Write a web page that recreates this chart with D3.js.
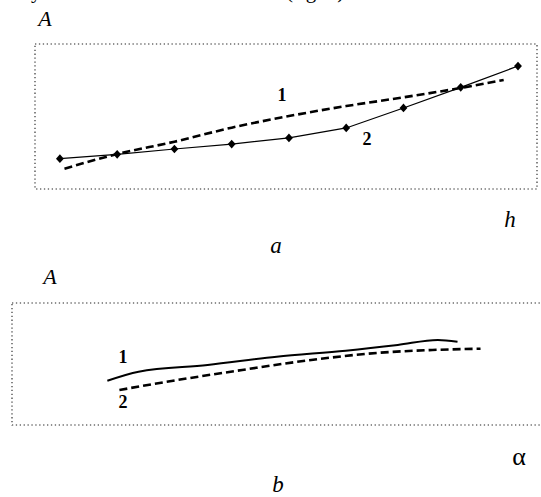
<!DOCTYPE html>
<html>
<head>
<meta charset="utf-8">
<script src="https://cdn.jsdelivr.net/npm/d3@7"></script>
<style>
  body { margin: 0; background: #fff; }
  svg { display: block; }
</style>
</head>
<body>
<div id="chart"></div>
<script>
// panel a: A against h
const hSteps = [0, 1, 2, 3, 4, 5, 6, 7, 8];
const aCurve2 = [2.09, 2.39, 2.76, 3.10, 3.52, 4.21, 5.59, 7.01, 8.48];
const aCurve1H = [0.08, 1, 2, 3, 4, 5, 6, 7, 7.75];
const aCurve1 = [1.40, 2.41, 3.26, 4.23, 5.03, 5.72, 6.32, 6.97, 7.52];

// panel b: A against alpha
const bCurve1Alpha = [1.74, 2.31, 3.57, 4.83, 6.09, 7.04, 7.77, 8.13];
const bCurve1 = [3.63, 4.37, 4.92, 5.60, 6.09, 6.56, 6.97, 6.83];
const bCurve2Alpha = [1.96, 2.94, 4.20, 5.46, 6.73, 7.67, 8.55];
const bCurve2 = [2.87, 3.63, 4.51, 5.33, 5.93, 6.15, 6.25];

const width = 541;
const height = 497;
const serif = "'Times New Roman', 'Liberation Serif', Times, serif";

const svg = d3
  .select('#chart')
  .append('svg')
  .attr('width', width)
  .attr('height', height)
  .style('font-family', serif);

// clipped text line from the page above
svg.append('text').attr('x', 31).attr('y', -2)
  .style('font-size', '21px').text('y');
svg.append('text').attr('x', 286).attr('y', -2)
  .style('font-size', '21px').text('(fig. 3)');

function frame(x0, y0, x1, y1) {
  svg
    .append('rect')
    .attr('x', x0)
    .attr('y', y0)
    .attr('width', x1 - x0)
    .attr('height', y1 - y0)
    .attr('fill', 'none')
    .attr('stroke', '#222')
    .attr('stroke-width', 1.1)
    .attr('stroke-dasharray', '1.3,2.6');
}

function label(x, y, txt, opts) {
  svg
    .append('text')
    .attr('x', x)
    .attr('y', y)
    .attr('text-anchor', 'middle')
    .style('font-size', opts.size + 'px')
    .style('font-style', opts.italic ? 'italic' : 'normal')
    .style('font-weight', opts.bold ? 'bold' : 'normal')
    .text(txt);
}

// ---- panel a ----
const xA = d3.scaleLinear().domain([0, 8]).range([59.9, 518]);
const yA = d3.scaleLinear().domain([0, 10]).range([189, 44]);

frame(35, 44, 537, 189);

const lineA = d3
  .line()
  .x((d) => xA(d[0]))
  .y((d) => yA(d[1]));

svg
  .append('path')
  .datum(d3.zip(aCurve1H, aCurve1))
  .attr('d', lineA.curve(d3.curveMonotoneX))
  .attr('fill', 'none')
  .attr('stroke', '#000')
  .attr('stroke-width', 2.6)
  .attr('stroke-dasharray', '8,4');

svg
  .append('path')
  .datum(d3.zip(hSteps, aCurve2))
  .attr('d', lineA.curve(d3.curveLinear))
  .attr('fill', 'none')
  .attr('stroke', '#000')
  .attr('stroke-width', 1.2);

svg
  .append('g')
  .selectAll('path')
  .data(d3.zip(hSteps, aCurve2))
  .enter()
  .append('path')
  .attr('transform', (d) => `translate(${xA(d[0])},${yA(d[1])}) scale(1.25,0.8)`)
  .attr('d', d3.symbol(d3.symbolDiamond, 34))
  .attr('fill', '#000');

label(282, 101, '1', { size: 18, bold: true });
label(367, 145, '2', { size: 18, bold: true });
label(45, 26, 'A', { size: 22, italic: true });
label(510, 227, 'h', { size: 23, italic: true });
label(276, 253, 'a', { size: 23, italic: true });

// ---- panel b ----
const xB = d3.scaleLinear().domain([0, 10]).range([12, 560]);
const yB = d3.scaleLinear().domain([0, 10]).range([425, 303]);

frame(12, 303, 560, 425);

const lineB = d3
  .line()
  .x((d) => xB(d[0]))
  .y((d) => yB(d[1]))
  .curve(d3.curveMonotoneX);

svg
  .append('path')
  .datum(d3.zip(bCurve1Alpha, bCurve1))
  .attr('d', lineB)
  .attr('fill', 'none')
  .attr('stroke', '#000')
  .attr('stroke-width', 2);

svg
  .append('path')
  .datum(d3.zip(bCurve2Alpha, bCurve2))
  .attr('d', lineB)
  .attr('fill', 'none')
  .attr('stroke', '#000')
  .attr('stroke-width', 2.6)
  .attr('stroke-dasharray', '8,4');

label(123, 363, '1', { size: 18, bold: true });
label(123, 408, '2', { size: 18, bold: true });
label(50, 284, 'A', { size: 22, italic: true });
label(519, 465, 'α', { size: 26 });
label(278, 492, 'b', { size: 23, italic: true });
</script>
</body>
</html>
